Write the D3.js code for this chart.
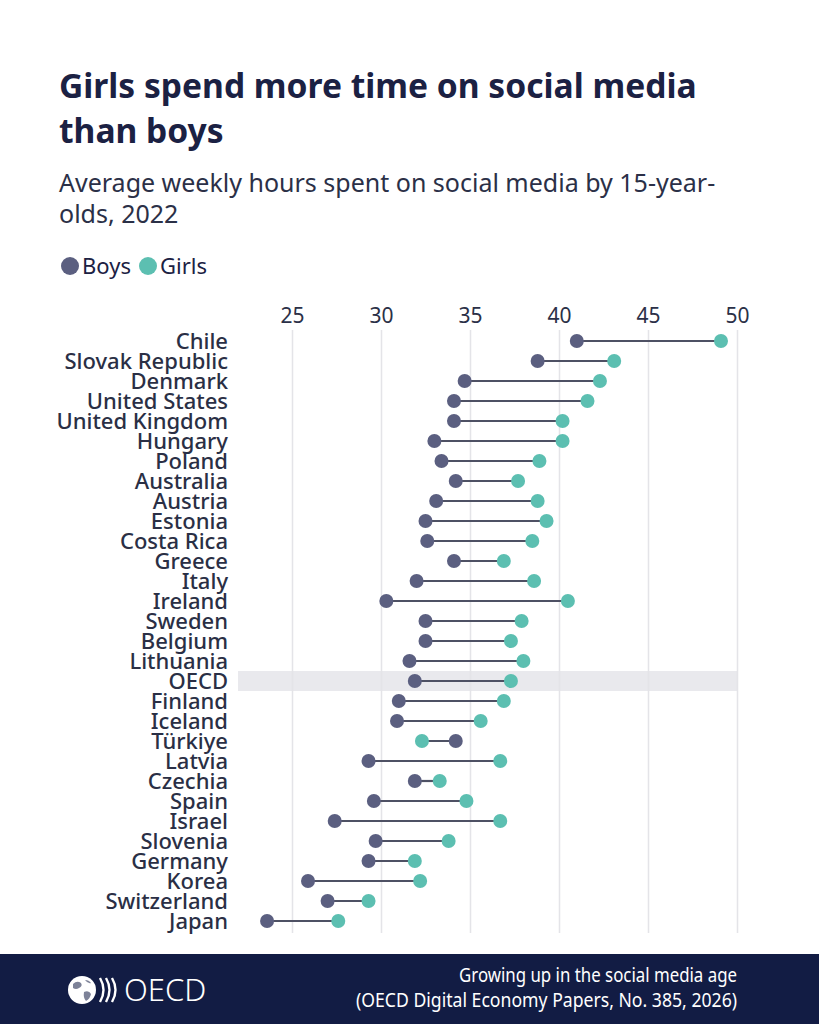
<!DOCTYPE html>
<html>
<head>
<meta charset="utf-8">
<script src="https://cdn.jsdelivr.net/npm/d3@7"></script>
<style>
  body { margin: 0; background: #fff; }
  text { font-family: "Noto Sans", "Open Sans", sans-serif; }
</style>
</head>
<body>
<div id="chart"></div>
<script>
// values (hours per week, 2022)
const countries = ['Chile', 'Slovak Republic', 'Denmark', 'United States', 'United Kingdom', 'Hungary',
  'Poland', 'Australia', 'Austria', 'Estonia', 'Costa Rica', 'Greece', 'Italy', 'Ireland', 'Sweden',
  'Belgium', 'Lithuania', 'OECD', 'Finland', 'Iceland', 'Türkiye', 'Latvia', 'Czechia', 'Spain',
  'Israel', 'Slovenia', 'Germany', 'Korea', 'Switzerland', 'Japan'];
const boys = [41.0, 38.8, 34.7, 34.1, 34.1, 33.0, 33.4, 34.2, 33.1, 32.5, 32.6, 34.1, 32.0, 30.3, 32.5,
  32.5, 31.6, 31.9, 31.0, 30.9, 34.2, 29.3, 31.9, 29.6, 27.4, 29.7, 29.3, 25.9, 27.0, 23.6];
const girls = [49.1, 43.1, 42.3, 41.6, 40.2, 40.2, 38.9, 37.7, 38.8, 39.3, 38.5, 36.9, 38.6, 40.5, 37.9,
  37.3, 38.0, 37.3, 36.9, 35.6, 32.3, 36.7, 33.3, 34.8, 36.7, 33.8, 31.9, 32.2, 29.3, 27.6];
const xTicks = [25, 30, 35, 40, 45, 50];
const highlight = 'OECD';

const title = ['Girls spend more time on social media', 'than boys'];
const subtitle = ['Average weekly hours spent on social media by 15-year-', 'olds, 2022'];
const source = ['Growing up in the social media age', '(OECD Digital Economy Papers, No. 385, 2026)'];
const sourceWidths = [278, 381];

const W = 819, H = 1024;
const navy = '#1b2143', boyCol = '#5b5f80', girlCol = '#5cbfb1';

const rows = countries.map((c, i) => ({ country: c, boys: boys[i], girls: girls[i] }));

const svg = d3.select('#chart').append('svg')
  .attr('width', W)
  .attr('height', H);

svg.append('rect').attr('width', W).attr('height', H).attr('fill', '#fff');

// header
svg.append('g').selectAll('text').data(title).join('text')
  .attr('x', 59).attr('y', (d, i) => 98 + i * 45)
  .attr('fill', navy).attr('font-size', 33.6).attr('font-weight', 700)
  .text(d => d);

svg.append('g').selectAll('text').data(subtitle).join('text')
  .attr('x', 59).attr('y', (d, i) => 192 + i * 31)
  .attr('fill', '#2b3047').attr('font-size', 25)
  .text(d => d);

const legend = svg.append('g').attr('transform', 'translate(70,266)');
[['Boys', boyCol], ['Girls', girlCol]].forEach(([name, col], i) => {
  const g = legend.append('g').attr('transform', `translate(${i * 78},0)`);
  g.append('circle').attr('r', 9).attr('fill', col);
  g.append('text').attr('x', 12).attr('y', 8).attr('font-size', 22).attr('fill', navy).text(name);
});

// scales
const x = d3.scaleLinear().domain([25, 50]).range([292, 737]);
const y = d3.scaleBand().domain(countries).range([331, 931]).padding(0);
const cy = c => y(c) + y.bandwidth() / 2;

// highlight band for OECD average
svg.append('rect')
  .attr('x', 238).attr('y', y(highlight))
  .attr('width', x(50) - 238).attr('height', y.bandwidth())
  .attr('fill', '#e9e9ed');

// grid + top axis labels
const axis = d3.axisTop(x).tickValues(xTicks).tickSize(-(933 - 330)).tickPadding(7);
const ax = svg.append('g').attr('transform', 'translate(0,330)').call(axis);
ax.select('.domain').remove();
ax.selectAll('.tick line').attr('stroke', '#e4e4e8').attr('stroke-width', 1.5);
ax.selectAll('.tick text')
  .attr('font-size', 21).attr('fill', '#2b3047')
  .attr('font-family', '"Noto Sans", sans-serif');

// country labels
svg.append('g').selectAll('text').data(rows).join('text')
  .attr('x', 228).attr('y', d => cy(d.country))
  .attr('dy', '0.36em').attr('text-anchor', 'end')
  .attr('font-size', 22).attr('font-weight', 500).attr('fill', '#2a2f45')
  .text(d => d.country);

// dumbbells
const marks = svg.append('g');
marks.selectAll('line').data(rows).join('line')
  .attr('x1', d => x(d.boys)).attr('x2', d => x(d.girls))
  .attr('y1', d => cy(d.country)).attr('y2', d => cy(d.country))
  .attr('stroke', '#4e5164').attr('stroke-width', 2.2);

marks.selectAll('circle.boys').data(rows).join('circle')
  .attr('class', 'boys')
  .attr('cx', d => x(d.boys)).attr('cy', d => cy(d.country))
  .attr('r', 7).attr('fill', boyCol);

marks.selectAll('circle.girls').data(rows).join('circle')
  .attr('class', 'girls')
  .attr('cx', d => x(d.girls)).attr('cy', d => cy(d.country))
  .attr('r', 7).attr('fill', girlCol);

// footer band
const foot = svg.append('g');
foot.append('rect').attr('x', 0).attr('y', 954).attr('width', W).attr('height', H - 954).attr('fill', '#121c44');
foot.selectAll('text.src').data(source).join('text')
  .attr('class', 'src')
  .attr('x', 737).attr('y', (d, i) => 982 + i * 25)
  .attr('text-anchor', 'end').attr('fill', '#fff').attr('font-size', 19.5)
  .attr('textLength', (d, i) => sourceWidths[i]).attr('lengthAdjust', 'spacingAndGlyphs')
  .text(d => d);

// OECD logo: globe, chevrons, wordmark
const logo = foot.append('g').attr('transform', 'translate(82,990)');
logo.append('circle').attr('r', 14).attr('fill', '#fff');
logo.append('path')
  .attr('d', 'M-9,-6 q4,-4 8,-1 q2,3 -2,5 q-3,2 -6,0 z M2,2 q5,-2 7,2 q-1,5 -5,7 q-3,-3 -2,-9 z M3,-10 q4,0 6,3 q-3,1 -6,-3 z')
  .attr('fill', '#121c44').attr('opacity', 0.55);
[0, 1, 2].forEach(i => {
  logo.append('path')
    .attr('d', `M${18 + i * 6},-12 q7,12 0,24`)
    .attr('fill', 'none').attr('stroke', '#fff').attr('stroke-width', 2.4);
});
logo.append('text').attr('x', 42).attr('y', 11).attr('fill', '#fff')
  .attr('font-size', 31).attr('font-weight', 300)
  .attr('font-family', '"Liberation Sans", Arial, sans-serif')
  .text('OECD');
</script>
</body>
</html>
